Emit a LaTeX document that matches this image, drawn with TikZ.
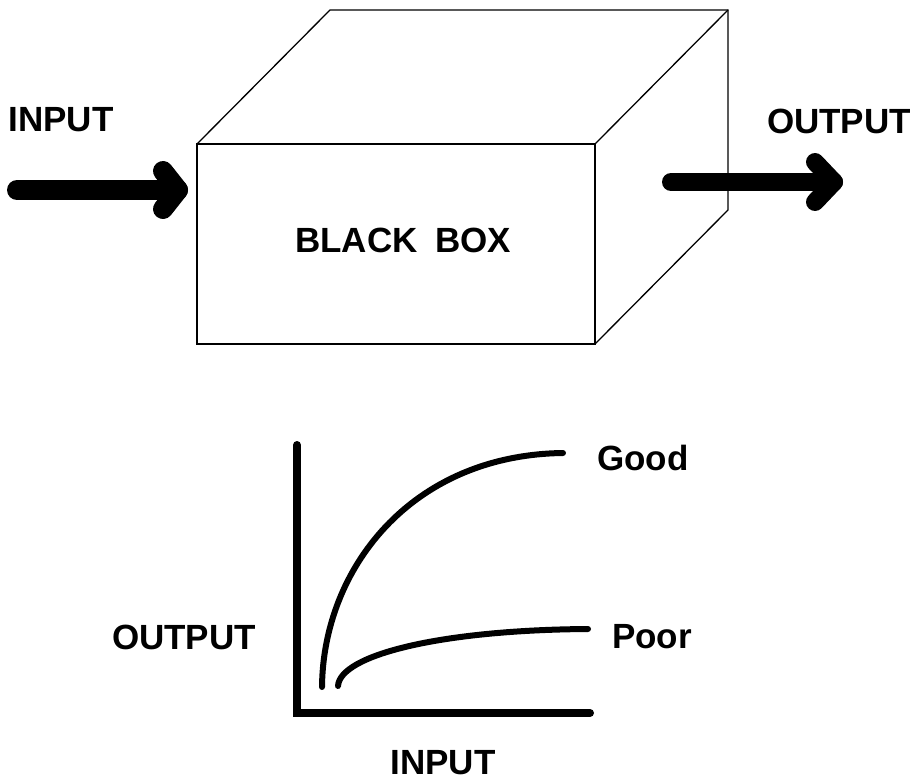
\documentclass[tikz,border=0pt]{standalone}
\usepackage{fontspec}
\setmainfont{Liberation Sans}

\tikzset{
  label/.style={font=\fontsize{35}{40}\selectfont\bfseries, inner sep=0pt},
  boxline/.style={line width=1.3pt, line join=miter},
  fatarrow/.style={line width=19pt, line cap=round, line join=round},
  axis/.style={line width=8pt, line cap=round, line join=miter},
  curve/.style={line width=6pt, line cap=round}
}

\begin{document}
\begin{tikzpicture}[x=1pt,y=-1pt]
\useasboundingbox (0,0) rectangle (920,781);

%la boite
\coordinate (fa) at (197,144);
\coordinate (fb) at (595,144);
\coordinate (fc) at (595,344);
\coordinate (fd) at (197,344);
\coordinate (ba) at (330,10);
\coordinate (bb) at (728,10);
\coordinate (bc) at (728,210);
\draw[boxline] (fa) -- (fb) -- (fc) -- (fd) -- cycle;
\draw[boxline] (fa) -- (ba) -- (bb) -- (bc) -- (fc);
\draw[boxline] (fb) -- (bb);
\node[label] (box) at (403,240) {BLACK\hspace{0.5em}BOX};

%entree
\node[label] (in) at (61,120) {INPUT};
\coordinate (in0) at (17,190);
\coordinate (in1) at (178,190);
\draw[fatarrow, line width=20pt] (in0) -- (in1);
\draw[fatarrow, line width=20pt] (163,171) -- (in1) -- (163,209);

%sortie
\node[label] (out) at (839,121) {OUTPUT};
\coordinate (out0) at (671,182);
\coordinate (out1) at (834,182);
\draw[fatarrow, line width=18pt] (out0) -- (out1);
\draw[fatarrow, line width=18pt] (815,162) -- (out1) -- (815,202);

%courbes
\coordinate (o) at (297,713);
\coordinate (ytop) at (297,445);
\coordinate (xend) at (590,713);
\draw[axis] (ytop) -- (o) -- (xend);
\draw[curve] (322,687) .. controls (323,570) and (410,455) .. (563,453);
\draw[curve] (338,686) .. controls (340,655) and (440,630) .. (588,629);

\node[label] (good) at (643,458) {Good};
\node[label] (poor) at (652,637) {Poor};
\node[label] (yl) at (184,637) {OUTPUT};
\node[label] (xl) at (443,763) {INPUT};
\end{tikzpicture}
\end{document}
